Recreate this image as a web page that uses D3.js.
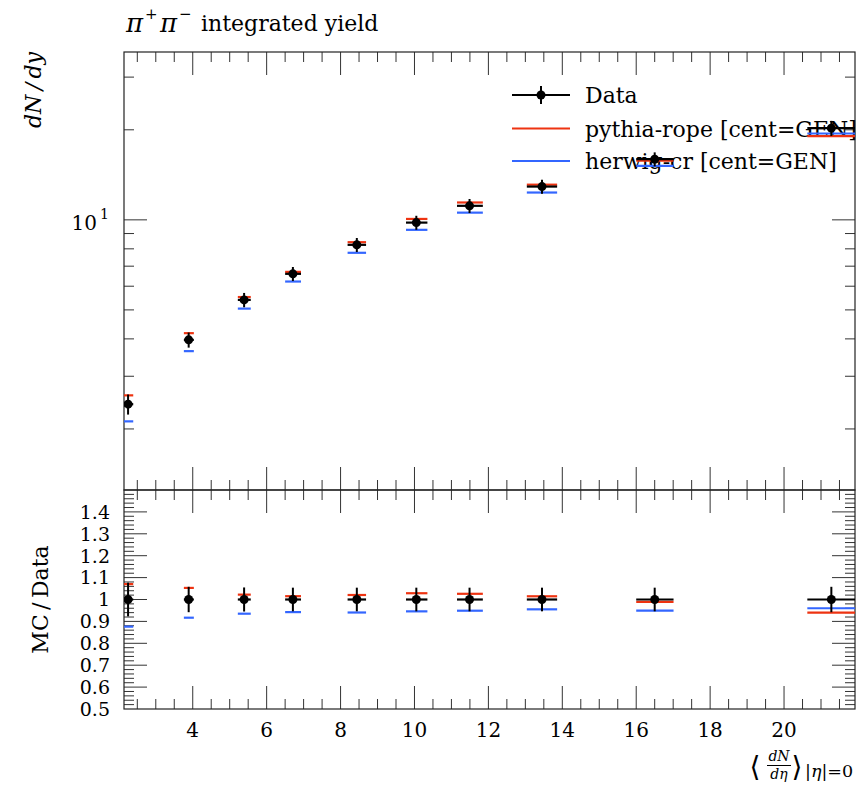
<!DOCTYPE html>
<html><head><meta charset="utf-8">
<script src="https://cdn.jsdelivr.net/npm/d3@7"></script>
<style>
body{margin:0;background:#fff}
svg{display:block}
text{font-family:"DejaVu Serif","Liberation Serif",serif;fill:#000}
</style>
</head><body>
<svg id="c" width="858" height="786"></svg>
<script>
// ---- data ----
const xVals   = [2.25, 3.89, 5.39, 6.71, 8.44, 10.05, 11.49, 13.45, 16.50, 21.28];
const xLow    = [2.14, 3.76, 5.22, 6.50, 8.19, 9.77, 11.15, 13.04, 16.00, 20.63];
const xHigh   = [2.39, 4.03, 5.57, 6.93, 8.69, 10.35, 11.85, 13.86, 17.01, 21.92];
const dataVals   = [2.42, 3.97, 5.40, 6.60, 8.25, 9.79, 11.14, 12.92, 15.95, 20.25];
const dataRelErr = [0.077, 0.058, 0.055, 0.054, 0.054, 0.054, 0.054, 0.054, 0.054, 0.058];
const pythiaVals = [2.59, 4.18, 5.52, 6.70, 8.42, 10.07, 11.43, 13.11, 15.77, 19.04];
const herwigVals = [2.12, 3.64, 5.05, 6.22, 7.76, 9.26, 10.57, 12.34, 15.14, 19.44];
const xTickLabels = [4, 6, 8, 10, 12, 14, 16, 18, 20];
const mainMinorTicks = [2, 3, 4, 5, 6, 7, 8, 9, 20, 30];
const mainMajorTicks = [10];
const ratioTickLabels = ["0.5","0.6","0.7","0.8","0.9","1","1.1","1.2","1.3","1.4"];
const legendLabels = ["Data", "pythia-rope [cent=GEN]", "herwig-cr [cent=GEN]"];
const seriesColors = ["#000000", "#EE3311", "#3366FF"];

// ---- layout ----
const L = 124, R = 855, T = 52, M = 490, B = 709;
const svg = d3.select("#c");

const x = d3.scaleLinear().domain([d3.min(xLow), d3.max(xHigh)]).range([L, R]);
const y = d3.scaleLog().domain([1.25, 36.4]).range([M, T]);
const yr = d3.scaleLinear().domain([0.5, 1.5]).range([B, M]);

const tickCol = "#333";
const MAJ = 23, MIN = 10;

// clip paths
const defs = svg.append("defs");
defs.append("clipPath").attr("id","clipMain").append("rect").attr("x",L).attr("y",T).attr("width",R-L).attr("height",M-T);
defs.append("clipPath").attr("id","clipRatio").append("rect").attr("x",L).attr("y",M).attr("width",R-L).attr("height",B-M);

// ---- ticks ----
const gT = svg.append("g").attr("stroke", tickCol).attr("stroke-width", 1);
const xMinor = d3.range(Math.ceil(x.domain()[0]*2)/2, x.domain()[1], 0.5);
function xTicksAt(yEdge, dir){
  xMinor.forEach(v => {
    const len = (Math.abs(v % 2) < 1e-9) ? MAJ : MIN;
    gT.append("line").attr("x1", x(v)).attr("x2", x(v)).attr("y1", yEdge).attr("y2", yEdge + dir*len);
  });
}
xTicksAt(T, 1); xTicksAt(M, -1); xTicksAt(M, 1); xTicksAt(B, -1);

function yTicks(scale, vals, len){
  vals.forEach(v => {
    gT.append("line").attr("x1", L).attr("x2", L+len).attr("y1", scale(v)).attr("y2", scale(v));
    gT.append("line").attr("x1", R).attr("x2", R-len).attr("y1", scale(v)).attr("y2", scale(v));
  });
}
yTicks(y, mainMinorTicks, MIN);
yTicks(y, mainMajorTicks, MAJ);
const rMinor = d3.range(0.52, 1.5, 0.02).filter(v => Math.abs(Math.round(v*10) - v*10) > 1e-6);
const rMajor = d3.range(0.6, 1.5, 0.1);
yTicks(yr, rMinor, MIN);
yTicks(yr, rMajor, MAJ);

// ---- frames ----
svg.append("rect").attr("x",L).attr("y",T).attr("width",R-L).attr("height",M-T)
  .attr("fill","none").attr("stroke","#222").attr("stroke-width",1.2);
svg.append("rect").attr("x",L).attr("y",M).attr("width",R-L).attr("height",B-M)
  .attr("fill","none").attr("stroke","#222").attr("stroke-width",1.2);

// ---- tick labels ----
svg.append("g").selectAll("text").data(xTickLabels).join("text")
  .attr("x", d => x(d)).attr("y", 737).attr("text-anchor","middle")
  .attr("font-size", 20).text(d => d);

svg.append("g").selectAll("text").data(ratioTickLabels).join("text")
  .attr("x", 110).attr("y", d => yr(+d)).attr("dy","0.36em").attr("text-anchor","end")
  .attr("font-size", 19).text(d => d);

// main y label 10^1
mainMajorTicks.forEach(v => {
  svg.append("text").attr("x", 97).attr("y", y(v) + 10).attr("text-anchor","end").attr("font-size", 20).text("10");
  svg.append("text").attr("x", 100).attr("y", y(v) - 1).attr("font-size", 14).text(Math.round(Math.log10(v)));
});

// ---- titles / axis labels ----
const tg = svg.append("g");
tg.append("text").attr("x", 126).attr("y", 32).attr("font-size", 26).attr("font-style","italic").text("π");
tg.append("text").attr("x", 145).attr("y", 19).attr("font-size", 15).text("+");
tg.append("text").attr("x", 160).attr("y", 32).attr("font-size", 26).attr("font-style","italic").text("π");
tg.append("text").attr("x", 179).attr("y", 19).attr("font-size", 15).text("−");
tg.append("text").attr("x", 201).attr("y", 31).attr("font-size", 22).text("integrated yield");

svg.append("text").attr("transform", `translate(41,${T}) rotate(-90)`)
  .attr("text-anchor","end").attr("font-size",22).attr("font-style","italic").text("dN\u2009/\u2009dy");
svg.append("text").attr("transform", `translate(48,${yr(1)}) rotate(-90)`)
  .attr("text-anchor","middle").attr("font-size",22).text("MC\u2009/\u2009Data");

// x-axis label  < dN/deta >_{|eta|=0}
const xl = svg.append("g");
xl.append("text").attr("x", 755).attr("y", 776).attr("text-anchor","middle").attr("font-size",28).attr("fill","#222").text("⟨");
xl.append("text").attr("x", 779).attr("y", 761).attr("text-anchor","middle").attr("font-size",14).attr("font-style","italic").text("dN");
xl.append("line").attr("x1",767).attr("x2",791).attr("y1",765.5).attr("y2",765.5).attr("stroke","#000").attr("stroke-width",1);
xl.append("text").attr("x", 779).attr("y", 779).attr("text-anchor","middle").attr("font-size",14).attr("font-style","italic").text("dη");
xl.append("text").attr("x", 797).attr("y", 776).attr("text-anchor","middle").attr("font-size",28).attr("fill","#222").text("⟩");
const sub = xl.append("text").attr("x", 805).attr("y", 777).attr("font-size",17.5);
sub.append("tspan").text("|");
sub.append("tspan").attr("font-style","italic").text("η");
sub.append("tspan").text("|=0");

// ---- legend ----
const lg = svg.append("g");
legendLabels.forEach((lab, i) => {
  const ly = [95, 128.5, 161][i];
  lg.append("line").attr("x1",512).attr("x2",570).attr("y1",ly).attr("y2",ly)
    .attr("stroke", seriesColors[i]).attr("stroke-width", 2);
  if (i === 0) {
    lg.append("line").attr("x1",541).attr("x2",541).attr("y1",ly-9).attr("y2",ly+9).attr("stroke","#000").attr("stroke-width",2);
    lg.append("circle").attr("cx",541).attr("cy",ly).attr("r",4.5).attr("fill","#000");
  }
  lg.append("text").attr("x",585).attr("y",ly+8).attr("font-size",22).text(lab);
});

// ---- main panel data ----
const idx = d3.range(xVals.length);
const gm = svg.append("g").attr("clip-path","url(#clipMain)");
[[herwigVals, seriesColors[2]], [pythiaVals, seriesColors[1]]].forEach(([vals, col]) => {
  gm.append("g").selectAll("line").data(idx).join("line")
    .attr("x1", i => x(xLow[i])).attr("x2", i => x(xHigh[i]))
    .attr("y1", i => y(vals[i])).attr("y2", i => y(vals[i]))
    .attr("stroke", col).attr("stroke-width", 2.2);
});
const gd = gm.append("g");
gd.selectAll("line.h").data(idx).join("line").attr("class","h")
  .attr("x1", i => x(xLow[i])).attr("x2", i => x(xHigh[i]))
  .attr("y1", i => y(dataVals[i])).attr("y2", i => y(dataVals[i]))
  .attr("stroke","#000").attr("stroke-width",2.2);
gd.selectAll("line.v").data(idx).join("line").attr("class","v")
  .attr("x1", i => x(xVals[i])).attr("x2", i => x(xVals[i]))
  .attr("y1", i => y(dataVals[i]*(1+dataRelErr[i]))).attr("y2", i => y(dataVals[i]*(1-dataRelErr[i])))
  .attr("stroke","#000").attr("stroke-width",2);
gd.selectAll("circle").data(idx).join("circle")
  .attr("cx", i => x(xVals[i])).attr("cy", i => y(dataVals[i])).attr("r",4.5).attr("fill","#000");

// ---- ratio panel ----
const gr = svg.append("g").attr("clip-path","url(#clipRatio)");
[[herwigVals, seriesColors[2]], [pythiaVals, seriesColors[1]]].forEach(([vals, col]) => {
  gr.append("g").selectAll("line").data(idx).join("line")
    .attr("x1", i => x(xLow[i])).attr("x2", i => x(xHigh[i]))
    .attr("y1", i => yr(vals[i]/dataVals[i])).attr("y2", i => yr(vals[i]/dataVals[i]))
    .attr("stroke", col).attr("stroke-width", 2.2);
});
const grd = gr.append("g");
grd.selectAll("line.h").data(idx).join("line").attr("class","h")
  .attr("x1", i => x(xLow[i])).attr("x2", i => x(xHigh[i]))
  .attr("y1", yr(1)).attr("y2", yr(1))
  .attr("stroke","#000").attr("stroke-width",2.2);
grd.selectAll("line.v").data(idx).join("line").attr("class","v")
  .attr("x1", i => x(xVals[i])).attr("x2", i => x(xVals[i]))
  .attr("y1", i => yr(1+dataRelErr[i])).attr("y2", i => yr(1-dataRelErr[i]))
  .attr("stroke","#000").attr("stroke-width",2);
grd.selectAll("circle").data(idx).join("circle")
  .attr("cx", i => x(xVals[i])).attr("cy", yr(1)).attr("r",4.5).attr("fill","#000");
</script>
</body></html>
